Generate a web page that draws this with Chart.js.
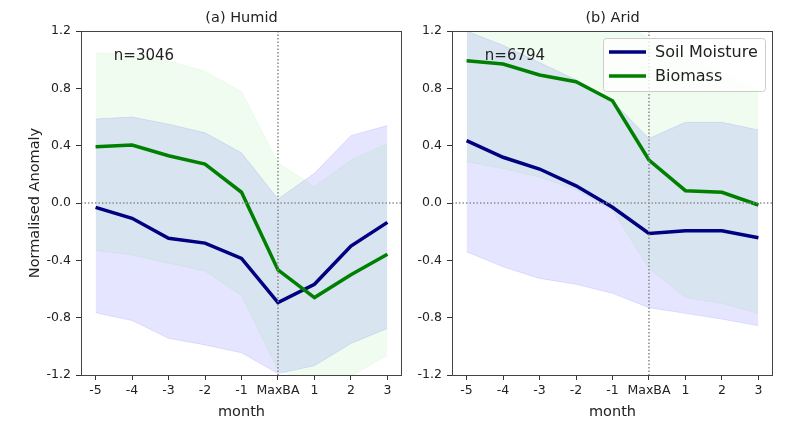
<!DOCTYPE html>
<html>
<head>
<meta charset="utf-8">
<script src="https://cdn.jsdelivr.net/npm/chart.js@4.4.1/dist/chart.umd.min.js"></script>
<style>
  body { margin: 0; background: #fff; }
  #wrap { position: relative; width: 786px; height: 425px; }
  canvas { position: absolute; top: 0; }
  #humid { left: 0; }
  #arid { left: 410px; }
</style>
</head>
<body>
<div id="wrap">
  <canvas id="humid" width="410" height="425"></canvas>
  <canvas id="arid" width="376" height="425"></canvas>
</div>
<script>
const months = ['-5', '-4', '-3', '-2', '-1', 'MaxBA', '1', '2', '3'];
const yTicks = [-1.2, -0.8, -0.4, 0.0, 0.4, 0.8, 1.2];

// (a) Humid
const humidSoil = [-0.03, -0.107, -0.246, -0.28, -0.386, -0.695, -0.567, -0.30, -0.135];
const humidBio = [0.393, 0.405, 0.33, 0.272, 0.075, -0.467, -0.66, -0.50, -0.358];
const humidSoilUp = [0.586, 0.60, 0.55, 0.49, 0.35, 0.028, 0.207, 0.47, 0.54];
const humidSoilLow = [-0.765, -0.82, -0.944, -0.99, -1.045, -1.19, -1.135, -0.98, -0.875];
const humidBioUp = [1.045, 1.04, 0.99, 0.92, 0.777, 0.28, 0.114, 0.30, 0.417];
const humidBioLow = [-0.33, -0.363, -0.42, -0.475, -0.645, -1.165, -1.26, -1.21, -1.06];

// (b) Arid
const aridSoil = [0.435, 0.319, 0.237, 0.12, -0.03, -0.212, -0.193, -0.193, -0.242];
const aridBio = [0.993, 0.97, 0.893, 0.846, 0.713, 0.30, 0.086, 0.075, -0.014];
const aridSoilUp = [1.2, 1.10, 0.98, 0.86, 0.71, 0.45, 0.563, 0.563, 0.51];
const aridSoilLow = [-0.34, -0.445, -0.526, -0.567, -0.63, -0.73, -0.77, -0.81, -0.856];
const aridBioUp = [1.5, 1.45, 1.4, 1.35, 1.3, 1.15, 1.03, 0.91, 0.79];
const aridBioLow = [0.288, 0.24, 0.18, 0.09, -0.05, -0.456, -0.66, -0.70, -0.77];

const FONT = 'DejaVu Sans';

function pontos(vals) {
  return vals.map((v, i) => ({ x: i, y: v }));
}

function datasets(soil, bio, soilUp, soilLow, bioUp, bioLow) {
  const faixa = (vals, cor, fill, order) => ({
    data: pontos(vals),
    borderColor: cor,
    backgroundColor: cor,
    borderWidth: 1,
    pointRadius: 0,
    fill: fill,
    order: order,
  });
  return [
    { label: 'Soil Moisture', linha: true, data: pontos(soil), borderColor: '#000080', borderWidth: 3.5, pointRadius: 0, fill: false, order: 2 },
    { label: 'Biomass', linha: true, data: pontos(bio), borderColor: '#008000', borderWidth: 3.5, pointRadius: 0, fill: false, order: 1 },
    faixa(soilUp, 'rgba(0,0,255,0.1)', '+1', 6),
    faixa(soilLow, 'rgba(0,0,255,0.1)', false, 6),
    faixa(bioUp, 'rgba(0,200,0,0.06)', '+1', 4),
    faixa(bioLow, 'rgba(0,200,0,0.06)', false, 4),
  ];
}

const painel = {
  id: 'painel',
  afterDatasetsDraw(chart) {
    const { ctx, chartArea: a, scales: { x, y } } = chart;
    // dotted lines at 0 and at MaxBA
    ctx.save();
    ctx.strokeStyle = '#888';
    ctx.lineWidth = 1.5;
    ctx.setLineDash([1.4, 2.1]);
    const y0 = y.getPixelForValue(0);
    const xm = x.getPixelForValue(months.indexOf('MaxBA'));
    ctx.beginPath();
    ctx.moveTo(a.left, y0);
    ctx.lineTo(a.right, y0);
    ctx.moveTo(xm, a.top);
    ctx.lineTo(xm, a.bottom);
    ctx.stroke();
    ctx.restore();
  },
  afterDraw(chart, args, o) {
    const { ctx, chartArea: a, scales: { x, y } } = chart;
    ctx.save();
    ctx.strokeStyle = '#444';
    ctx.lineWidth = 1;
    ctx.strokeRect(a.left + 0.5, a.top + 0.5, a.right - a.left - 1, a.bottom - a.top);

    ctx.fillStyle = '#222';
    ctx.font = '14.5px "' + FONT + '"';
    ctx.textAlign = 'center';
    ctx.textBaseline = 'middle';
    ctx.fillText(o.titulo, (a.left + a.right) / 2, 18);

    ctx.font = '15px "' + FONT + '"';
    ctx.textAlign = 'left';
    ctx.textBaseline = 'alphabetic';
    ctx.fillText(o.n, x.getPixelForValue(o.nPos[0]), y.getPixelForValue(o.nPos[1]));

    if (o.legenda) {
      const w = 162, h = 53;
      const lx = a.right - 8 - w, ly = a.top + 7;
      ctx.beginPath();
      ctx.roundRect(lx + 0.5, ly + 0.5, w, h, 3);
      ctx.fillStyle = 'rgba(255,255,255,0.8)';
      ctx.fill();
      ctx.strokeStyle = '#ccc';
      ctx.stroke();
      ctx.font = '16px "' + FONT + '"';
      ctx.textBaseline = 'middle';
      chart.data.datasets.filter((d) => d.linha).forEach((d, i) => {
        const ry = ly + 14 + i * 24;
        ctx.strokeStyle = d.borderColor;
        ctx.lineWidth = 3.5;
        ctx.beginPath();
        ctx.moveTo(lx + 6, ry);
        ctx.lineTo(lx + 43, ry);
        ctx.stroke();
        ctx.fillStyle = '#222';
        ctx.fillText(d.label, lx + 52, ry + 1);
      });
    }
    ctx.restore();
  },
};

function escalas(tituloY, larguraY) {
  const fonteTick = { family: FONT, size: 12.5 };
  const fonteTitulo = { family: FONT, size: 14.5 };
  return {
    x: {
      type: 'linear',
      min: -0.4,
      max: 8.4,
      afterBuildTicks: (s) => { s.ticks = months.map((m, i) => ({ value: i })); },
      afterFit: (s) => { s.height = 50; },
      ticks: { callback: (v) => months[v], autoSkip: false, maxRotation: 0, padding: 3, color: '#222', font: fonteTick },
      grid: { drawOnChartArea: false, tickLength: 5, tickColor: '#333' },
      border: { display: false },
      title: { display: true, text: 'month', color: '#222', font: fonteTitulo, padding: { top: 2 } },
    },
    y: {
      min: -1.2,
      max: 1.2,
      afterBuildTicks: (s) => { s.ticks = yTicks.map((v) => ({ value: v })); },
      afterFit: (s) => { s.width = larguraY; },
      ticks: { callback: (v) => v.toFixed(1), padding: 5, color: '#222', font: fonteTick },
      grid: { drawOnChartArea: false, tickLength: 5, tickColor: '#333' },
      border: { display: false },
      title: { display: tituloY, text: 'Normalised Anomaly', color: '#222', font: fonteTitulo, padding: { top: 27 } },
    },
  };
}

function criarPainel(id, dados, opcoes, tituloY, larguraY, padDireita) {
  return new Chart(document.getElementById(id), {
    type: 'line',
    data: { datasets: dados },
    options: {
      responsive: false,
      animation: false,
      events: [],
      layout: { padding: { top: 31, right: padDireita, left: 0, bottom: 0 } },
      elements: { line: { tension: 0 } },
      plugins: {
        legend: { display: false },
        tooltip: { enabled: false },
        painel: opcoes,
      },
      scales: escalas(tituloY, larguraY),
    },
    plugins: [painel],
  });
}

criarPainel('humid',
  datasets(humidSoil, humidBio, humidSoilUp, humidSoilLow, humidBioUp, humidBioLow),
  { titulo: '(a) Humid', n: 'n=3046', nPos: [0.5, 1.0], legenda: false },
  true, 81, 8);

criarPainel('arid',
  datasets(aridSoil, aridBio, aridSoilUp, aridSoilLow, aridBioUp, aridBioLow),
  { titulo: '(b) Arid', n: 'n=6794', nPos: [0.5, 1.0], legenda: true },
  false, 42, 13);
</script>
</body>
</html>
